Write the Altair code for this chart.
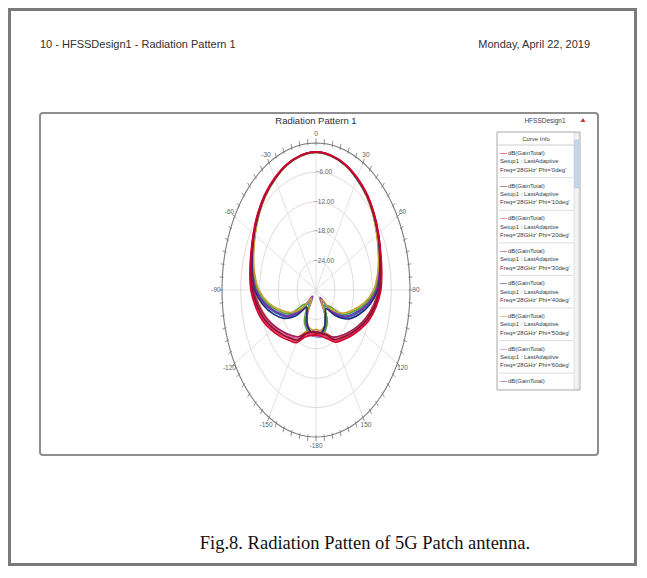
import altair as alt
import pandas as pd

# ---------------- data ----------------
THETA = list(range(-180, 181, 10))  # degrees, -180 .. 180

G_CYAN = [-20.5, -20.6, -21.4, -23.2, -26.3, -22.8, -19.0, -16.3, -13.2, -10.6, -9.4, -8.4, -7.3, -6.0, -4.8, -3.8, -2.8, -2.2, -1.9,
          -2.2, -2.8, -3.8, -4.8, -6.0, -7.3, -8.5, -9.5, -10.5, -13.0, -16.0, -18.8, -22.5, -26.0, -23.0, -21.2, -20.3, -20.5]
G_BLUE = [-21.0, -21.0, -21.8, -23.8, -27.3, -23.8, -19.6, -16.8, -13.7, -11.0, -9.7, -8.6, -7.4, -6.1, -4.9, -3.8, -2.9, -2.2, -1.9,
          -2.2, -2.9, -3.9, -4.9, -6.1, -7.4, -8.6, -9.6, -10.8, -13.5, -16.6, -19.4, -23.5, -27.0, -23.6, -21.6, -20.8, -21.0]
G_ORANGE = [-20.8, -21.2, -21.0, -19.0, -17.8, -16.6, -15.0, -13.3, -11.7, -10.2, -9.2, -8.3, -7.2, -6.0, -4.8, -3.7, -2.8, -2.2, -1.9,
            -2.2, -2.8, -3.7, -4.8, -6.0, -7.2, -8.3, -9.1, -10.0, -11.5, -13.2, -14.9, -16.5, -17.7, -18.8, -20.6, -21.0, -20.8]
G_GREEN = [-21.5, -21.2, -21.5, -22.6, -25.2, -25.5, -20.3, -17.4, -14.2, -11.4, -9.9, -8.7, -7.5, -6.2, -4.9, -3.9, -2.9, -2.2, -1.9,
           -2.2, -2.9, -3.9, -4.9, -6.2, -7.5, -8.7, -9.8, -11.2, -14.0, -17.2, -20.0, -25.0, -25.5, -22.8, -21.4, -21.0, -21.5]
G_PURPLE = [-21.2, -21.3, -22.2, -24.7, -28.3, -23.3, -19.2, -16.5, -13.4, -10.8, -9.5, -8.5, -7.3, -6.0, -4.8, -3.8, -2.8, -2.2, -1.9,
            -2.2, -2.8, -3.8, -4.8, -6.0, -7.3, -8.5, -9.5, -10.7, -13.2, -16.2, -19.0, -23.0, -28.0, -24.5, -22.0, -21.0, -21.2]
G_PINK = [-20.4, -20.8, -20.5, -18.6, -17.5, -16.2, -14.6, -12.9, -11.3, -9.9, -9.0, -8.2, -7.1, -5.9, -4.7, -3.7, -2.8, -2.1, -1.8,
          -2.1, -2.8, -3.7, -4.7, -5.9, -7.1, -8.2, -9.0, -9.8, -11.2, -12.8, -14.5, -16.1, -17.4, -18.5, -20.3, -20.6, -20.4]
G_GOLD = [-22.0, -21.8, -22.4, -24.4, -27.8, -24.2, -20.8, -18.0, -14.7, -11.8, -10.1, -8.8, -7.6, -6.2, -5.0, -3.9, -2.9, -2.3, -2.0,
          -2.3, -2.9, -3.9, -5.0, -6.2, -7.6, -8.8, -10.0, -11.6, -14.5, -17.8, -20.6, -24.0, -27.5, -24.2, -22.2, -21.6, -22.0]
G_NAVY = [-20.8, -21.2, -22.2, -24.2, -25.4, -22.0, -18.4, -15.6, -12.8, -10.4, -9.3, -8.4, -7.2, -6.0, -4.8, -3.8, -2.8, -2.2, -1.9,
          -2.2, -2.8, -3.8, -4.8, -6.0, -7.2, -8.4, -9.3, -10.3, -12.6, -15.4, -18.2, -21.8, -25.0, -24.0, -22.0, -21.0, -20.8]
G_PLUM = [-21.5, -21.4, -20.6, -19.0, -17.9, -16.6, -15.0, -13.2, -11.5, -10.0, -9.1, -8.2, -7.1, -5.9, -4.7, -3.7, -2.8, -2.1, -1.8,
          -2.1, -2.8, -3.7, -4.7, -5.9, -7.1, -8.2, -9.1, -10.0, -11.4, -13.1, -14.9, -16.5, -17.8, -18.9, -20.4, -21.2, -21.5]
G_ROSE = [-21.0, -21.0, -20.2, -18.0, -17.0, -15.6, -14.0, -12.2, -10.7, -9.4, -8.7, -8.0, -7.0, -5.8, -4.6, -3.6, -2.7, -2.1, -1.8,
          -2.1, -2.7, -3.6, -4.6, -5.8, -7.0, -8.1, -8.8, -9.5, -10.8, -12.3, -14.1, -15.7, -17.0, -18.0, -19.8, -20.8, -21.0]
G_MAROON = [-21.2, -21.3, -20.5, -18.2, -17.2, -15.9, -14.3, -12.5, -11.0, -9.7, -8.9, -8.1, -7.1, -5.9, -4.7, -3.7, -2.8, -2.1, -1.8,
            -2.2, -2.8, -3.7, -4.7, -5.9, -7.1, -8.2, -9.0, -9.7, -11.0, -12.6, -14.4, -16.0, -17.3, -18.3, -20.2, -21.0, -21.2]
G_CRIMSON = [-20.8, -20.6, -19.8, -17.6, -16.6, -15.2, -13.6, -11.8, -10.4, -9.2, -8.6, -7.9, -6.9, -5.7, -4.6, -3.6, -2.7, -2.1, -1.8,
             -2.1, -2.7, -3.6, -4.6, -5.8, -7.0, -8.0, -8.7, -9.3, -10.5, -12.0, -13.8, -15.4, -16.7, -17.7, -19.4, -20.4, -20.8]

CURVE_NAMES = ["cyan", "blue", "orange", "green", "purple", "pink", "gold", "navy", "plum", "rose", "maroon", "crimson"]
CURVE_COLORS = ["#10a8b8", "#2c4fd8", "#e8841c", "#5aa030", "#8a2ca8", "#e060b0", "#c8a030", "#1c2a80",
                "#a0205c", "#e8345a", "#86102e", "#d40030"]
CURVE_VALUES = [G_CYAN, G_BLUE, G_ORANGE, G_GREEN, G_PURPLE, G_PINK, G_GOLD, G_NAVY, G_PLUM, G_ROSE, G_MAROON, G_CRIMSON]

RING_DB = [-24, -18, -12, -6]          # inner grid circles (dB)
OUTER_DB = [0]                          # outer circle (dB)
RADIAL_MIN = -30                        # dB at the centre
SPOKE_ANGLES = list(range(0, 360, 30))
ANGLE_LABELS = [0, 30, 60, 90, 120, 150, -180, -150, -120, -90, -60, -30]
TICK_ANGLES = list(range(0, 360, 5))
RING_SAMPLE = list(range(0, 361, 3))

LEGEND_PHI = ["0deg", "10deg", "20deg", "30deg", "40deg", "50deg", "60deg", "70deg"]
LEGEND_COLORS = ["#d40030", "#86102e", "#e8345a", "#a0205c", "#1c2a80", "#c8a030", "#e060b0", "#8a2ca8"]
LEGEND_FULL = [1, 1, 1, 1, 1, 1, 1, 0]

HEADER_LEFT = "10 - HFSSDesign1 - Radiation Pattern 1"
HEADER_RIGHT = "Monday, April 22, 2019"
PLOT_TITLE = "Radiation Pattern 1"
DESIGN_NAME = "HFSSDesign1"
CAPTION = "Fig.8. Radiation Patten of 5G Patch antenna."

# ---------------- tables ----------------
rows = []
for name, vals in zip(CURVE_NAMES, CURVE_VALUES):
    for t, g in zip(THETA, vals):
        rows.append({"curve": name, "theta": t, "gain": g})
df_curves = pd.DataFrame(rows)

df_rings = pd.DataFrame([{"db": d, "ang": a} for d in RING_DB for a in RING_SAMPLE])
df_outer = pd.DataFrame([{"db": d, "ang": a} for d in OUTER_DB for a in RING_SAMPLE])
df_spokes = pd.DataFrame({"ang": SPOKE_ANGLES})
df_ticks = pd.DataFrame({"ang": TICK_ANGLES})
df_alabels = pd.DataFrame({"ang": ANGLE_LABELS, "label": [str(a) for a in ANGLE_LABELS]})
df_rlabels = pd.DataFrame({"db": RING_DB})
df_legend = pd.DataFrame({"i": list(range(len(LEGEND_PHI))), "phi": LEGEND_PHI,
                          "col": LEGEND_COLORS, "full": LEGEND_FULL})
one = pd.DataFrame({"k": [0]})

W, H = 629, 558
SANS = "Liberation Sans Narrow, Arial Narrow, Liberation Sans, Arial, sans-serif"

XS = alt.Scale(domain=[-30, 30], range=[214, 402], nice=False, zero=False)
YS = alt.Scale(domain=[-30, 30], range=[429, 135], nice=False, zero=False)


def xq(f):
    return alt.X(f, type="quantitative", scale=XS, axis=None)


def yq(f):
    return alt.Y(f, type="quantitative", scale=YS, axis=None)


def box(x1, x2, y1, y2, **kw):
    return alt.Chart(one).mark_rect(**kw).encode(
        x=alt.value(x1), x2=alt.value(x2), y=alt.value(y1), y2=alt.value(y2))


def label(txt, x, y, **kw):
    return alt.Chart(one).mark_text(text=txt, **kw).encode(x=alt.value(x), y=alt.value(y))


# ---------------- frames ----------------
page_border = box(1.5, W - 1.5, 1.5, H - 1.5, fill="white", stroke="#7a7a7a", strokeWidth=3)
plot_frame = box(32, 590, 105, 447, fill="white", stroke="#8e8e8e", strokeWidth=2, cornerRadius=3)

# ---------------- polar grid ----------------
rings = alt.Chart(df_rings).transform_calculate(
    rr=f"datum.db - ({RADIAL_MIN})"
).transform_calculate(
    px="datum.rr*sin(datum.ang*PI/180)", py="datum.rr*cos(datum.ang*PI/180)"
).mark_line(color="#e0d4d4", strokeWidth=0.9).encode(
    x=xq("px"), y=yq("py"), detail="db:N", order=alt.Order("ang:Q"))

spokes = alt.Chart(df_spokes).transform_calculate(
    x0="0", y0="0",
    x1=f"{-RADIAL_MIN}*sin(datum.ang*PI/180)", y1=f"{-RADIAL_MIN}*cos(datum.ang*PI/180)"
).mark_rule(color="#dadada", strokeWidth=0.8).encode(
    x=xq("x0"), y=yq("y0"), x2="x1:Q", y2="y1:Q")

outer = alt.Chart(df_outer).transform_calculate(
    rr=f"datum.db - ({RADIAL_MIN})"
).transform_calculate(
    px="datum.rr*sin(datum.ang*PI/180)", py="datum.rr*cos(datum.ang*PI/180)"
).mark_line(color="#7c7c7c", strokeWidth=1.1).encode(
    x=xq("px"), y=yq("py"), order=alt.Order("ang:Q"))

ticks = alt.Chart(df_ticks).transform_calculate(
    x0="29.6*sin(datum.ang*PI/180)", y0="29.6*cos(datum.ang*PI/180)",
    x1="30.9*sin(datum.ang*PI/180)", y1="30.9*cos(datum.ang*PI/180)"
).mark_rule(color="#777777", strokeWidth=0.8).encode(
    x=xq("x0"), y=yq("y0"), x2="x1:Q", y2="y1:Q")

alabels = alt.Chart(df_alabels).transform_calculate(
    px="31.9*sin(datum.ang*PI/180)", py="31.9*cos(datum.ang*PI/180)"
).mark_text(font=SANS, fontSize=6.5, color="#5e5e5e").encode(
    x=xq("px"), y=yq("py"), text="label:N")

rlabels = alt.Chart(df_rlabels).transform_calculate(
    px="0", py=f"datum.db - ({RADIAL_MIN})"
).mark_text(font=SANS, fontSize=6.5, color="#6a6a6a", dx=8).encode(
    x=xq("px"), y=yq("py"), text=alt.Text("db:Q", format=".2f"))

# ---------------- curves ----------------
curves = alt.Chart(df_curves).transform_calculate(
    rr=f"max(0, datum.gain - ({RADIAL_MIN}))"
).transform_calculate(
    px="datum.rr*sin(datum.theta*PI/180)", py="datum.rr*cos(datum.theta*PI/180)"
).mark_line(interpolate="catmull-rom", strokeWidth=1.6).encode(
    x=xq("px"), y=yq("py"),
    color=alt.Color("curve:N", scale=alt.Scale(domain=CURVE_NAMES, range=CURVE_COLORS), legend=None),
    order=alt.Order("theta:Q"))

# ---------------- texts ----------------
hdr_left = label(HEADER_LEFT, 32, 37, font=SANS, fontSize=11, color="#303030", align="left")
hdr_right = label(HEADER_RIGHT, 582, 37, font=SANS, fontSize=11, color="#303030", align="right")
title = label(PLOT_TITLE, 308, 113, font=SANS, fontSize=9.5, color="#303030")
design = label(DESIGN_NAME, 537, 113, font=SANS, fontSize=6.5, color="#404040")
logo = alt.Chart(one).mark_point(shape="triangle-up", filled=True, color="#d02828", size=22, opacity=1).encode(
    x=alt.value(575), y=alt.value(112))
caption = label(CAPTION, 357, 535, font="Liberation Serif, DejaVu Serif, serif", fontSize=18.5, color="#111111")

# ---------------- legend panel ----------------
leg_box = box(489, 572, 124, 382, fill="white", stroke="#a8a8a8", strokeWidth=1)
leg_head_line = alt.Chart(one).mark_rule(color="#c4c4c4", strokeWidth=0.8).encode(
    x=alt.value(490), x2=alt.value(566), y=alt.value(137))
leg_head = label("Curve Info", 528, 130.5, font=SANS, fontSize=6, color="#404040")
scroll = box(566, 571, 125, 381, fill="#f2f2f2", stroke="#d0d0d0", strokeWidth=0.6)
thumb = box(566.5, 570.5, 132, 180, fill="#c6d6ef", stroke="#a8bee0", strokeWidth=0.5)

leg_base = alt.Chart(df_legend).transform_calculate(ty="145 + datum.i*32.6")
leg_dash = leg_base.mark_text(text="\u2014", fontSize=7, align="left").encode(
    x=alt.value(492), y=alt.Y("ty:Q", scale=None), color=alt.Color("col:N", scale=None, legend=None))
leg_l1 = leg_base.mark_text(text="dB(GainTotal)", font=SANS, fontSize=6, color="#3a3a3a", align="left").encode(
    x=alt.value(500), y=alt.Y("ty:Q", scale=None))
leg_l23 = leg_base.transform_filter("datum.full == 1").transform_calculate(
    t2="'Setup1 : LastAdaptive\\nFreq=\\'28GHz\\' Phi=\\'' + datum.phi + '\\''", ty2="datum.ty + 8.3"
).mark_text(font=SANS, fontSize=6, color="#3a3a3a", align="left", baseline="middle",
            lineBreak="\n", lineHeight=8.6).encode(
    x=alt.value(492), y=alt.Y("ty2:Q", scale=None), text="t2:N")
leg_sep = leg_base.transform_filter("datum.i > 0").transform_calculate(sy="datum.ty - 8").mark_rule(
    color="#cfcfcf", strokeWidth=0.7).encode(
    x=alt.value(491), x2=alt.value(565), y=alt.Y("sy:Q", scale=None))

chart = alt.layer(
    page_border, plot_frame,
    rings, spokes, outer, ticks, alabels, rlabels,
    curves,
    hdr_left, hdr_right, title, design, logo,
    leg_box, leg_head_line, leg_head, scroll, thumb, leg_sep, leg_dash, leg_l1, leg_l23,
    caption,
).properties(
    width=W, height=H, padding=0,
    autosize=alt.AutoSizeParams(type="none"),
    background="white",
).configure_view(strokeWidth=0)

chart.save("out.html", embed_options={"renderer": "svg", "actions": False})
